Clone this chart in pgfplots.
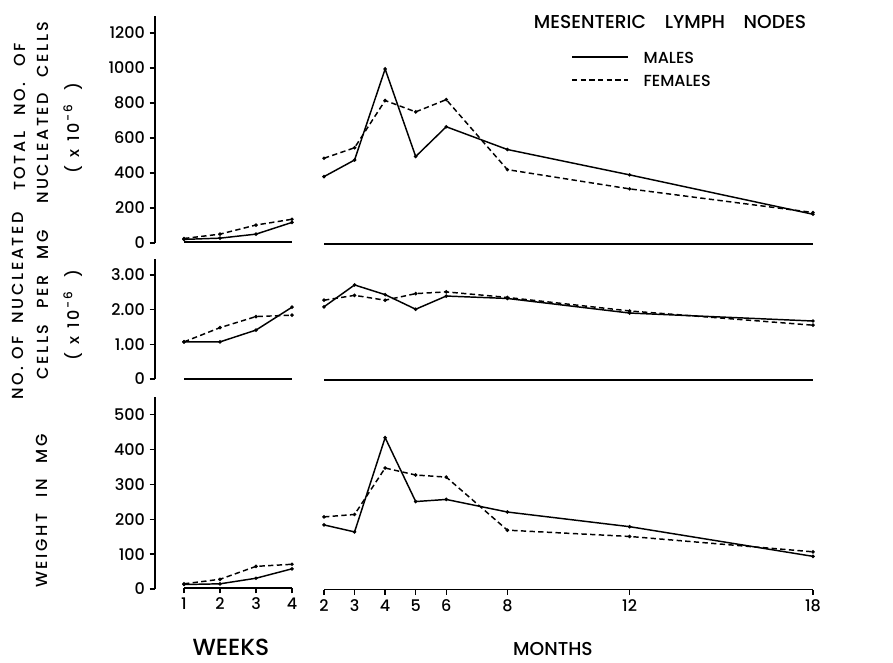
\documentclass[border=0pt]{standalone}
\usepackage{fontspec}
\setmainfont{Poppins}[UprightFont={* Medium}]
\usepackage{pgfplots}
\pgfplotsset{compat=1.18}

\pgfplotsset{
  panel/.style={scale only axis, clip=false, ymin=0,
    axis line style={-, line width=1.3pt},
    tick style={black, line width=1pt},
    tick align=outside, major tick length=4pt,
    ticklabel style={font=\fontsize{12}{13}\selectfont},
    /pgf/number format/assume math mode=true,
    /pgf/number format/1000 sep={}},
  yonly/.style={panel, xmin=0, xmax=1, width=0.1pt,
    axis x line=none, axis y line*=left, xtick=\empty},
  datax/.style={panel, axis y line=none, axis x line*=bottom, ytick=\empty},
  males/.style={black, line width=1.1pt, mark=*, mark size=0.7pt},
  females/.style={black, line width=1.1pt, dash pattern=on 4pt off 2.5pt,
    mark=*, mark size=0.7pt, mark options={solid}},
}
\newfontfamily\labfont{Poppins}[UprightFont={* Medium}, LetterSpace=16]
\newcommand{\lab}{\labfont\fontsize{12}{13}\selectfont}
\newcommand{\sci}{(\enspace x\enspace 10\raisebox{0.8ex}{\small\,-6}\enspace\ )}

\begin{document}
\begin{tikzpicture}
\useasboundingbox (0,0) rectangle (669.75pt,-496.5pt);

% ---------- panel 1: total nucleated cells ----------
\begin{axis}[yonly, at={({155*0.75pt},{-243*0.75pt})}, anchor=south west,
  height={227.5*0.75pt}, ymax=1300, ytick={0,200,...,1200}]
\end{axis}
\begin{axis}[datax, at={({184*0.75pt},{-242*0.75pt})}, anchor=south west,
  width={108*0.75pt}, height={227.5*0.75pt}, xmin=1, xmax=4, ymax=1300, xtick=\empty]
\addplot[males] coordinates {(1,15)(2,22)(3,45)(4,112)};
\addplot[females] coordinates {(1,20)(2,45)(3,97)(4,130)};
\end{axis}
\begin{axis}[datax, at={({324*0.75pt},{-244*0.75pt})}, anchor=south west,
  width={489*0.75pt}, height={227.5*0.75pt}, xmin=2, xmax=18, ymax=1300, xtick=\empty]
\addplot[males] coordinates {(2,385)(3,480)(4,1000)(5,500)(6,670)(8,540)(12,395)(18,170)};
\addplot[females] coordinates {(2,490)(3,550)(4,820)(5,755)(6,825)(8,425)(12,315)(18,180)};
\end{axis}

% ---------- panel 2: cells per mg ----------
\begin{axis}[yonly, at={({155*0.75pt},{-379*0.75pt})}, anchor=south west,
  height={119.7*0.75pt}, ymax=3.45, ytick={0,1,2,3},
  yticklabels={0,1.00,2.00,3.00}]
\end{axis}
\begin{axis}[datax, at={({184*0.75pt},{-379*0.75pt})}, anchor=south west,
  width={108*0.75pt}, height={119.7*0.75pt}, xmin=1, xmax=4, ymax=3.45, xtick=\empty]
\addplot[males] coordinates {(1,1.07)(2,1.07)(3,1.41)(4,2.07)};
\addplot[females] coordinates {(1,1.07)(2,1.48)(3,1.80)(4,1.84)};
\end{axis}
\begin{axis}[datax, at={({324*0.75pt},{-380*0.75pt})}, anchor=south west,
  width={489*0.75pt}, height={119.7*0.75pt}, xmin=2, xmax=18, ymax=3.45, xtick=\empty]
\addplot[males] coordinates {(2,2.11)(3,2.74)(4,2.46)(5,2.04)(6,2.42)(8,2.35)(12,1.93)(18,1.70)};
\addplot[females] coordinates {(2,2.30)(3,2.44)(4,2.30)(5,2.49)(6,2.54)(8,2.38)(12,1.99)(18,1.58)};
\end{axis}

% ---------- panel 3: weight ----------
\begin{axis}[yonly, at={({155*0.75pt},{-589*0.75pt})}, anchor=south west,
  height={192*0.75pt}, ymax=550, ytick={0,100,...,500}]
\end{axis}
\begin{axis}[datax, at={({184*0.75pt},{-588*0.75pt})}, anchor=south west,
  width={108*0.75pt}, height={192*0.75pt}, xmin=1, xmax=4, ymax=550,
  xtick={1,2,3,4}]
\addplot[males] coordinates {(1,10)(2,12)(3,28)(4,55)};
\addplot[females] coordinates {(1,12)(2,25)(3,62)(4,68)};
\end{axis}
\begin{axis}[datax, at={({324*0.75pt},{-589.5*0.75pt})}, anchor=south west,
  width={489*0.75pt}, height={192*0.75pt}, xmin=2, xmax=18, ymax=550,
  xtick={2,3,4,5,6,8,12,18}]
\addplot[males] coordinates {(2,185)(3,165)(4,435)(5,252)(6,258)(8,222)(12,180)(18,95)};
\addplot[females] coordinates {(2,208)(3,215)(4,348)(5,328)(6,322)(8,170)(12,152)(18,108)};
\end{axis}

% ---------- labels ----------
\node[rotate=90, font=\lab] at ({20*0.75pt},{-117*0.75pt}) {TOTAL\quad NO.\quad OF};
\node[rotate=90, font=\lab] at ({43*0.75pt},{-113*0.75pt}) {NUCLEATED\quad CELLS};
\node[rotate=90, font=\lab] at ({73*0.75pt},{-128*0.75pt}) {\sci};
\node[rotate=90, font=\lab] at ({18*0.75pt},{-306*0.75pt}) {NO. OF\ \ NUCLEATED};
\node[rotate=90, font=\lab] at ({43*0.75pt},{-305*0.75pt}) {CELLS\quad PER\quad MG};
\node[rotate=90, font=\lab] at ({73*0.75pt},{-315*0.75pt}) {\sci};
\node[rotate=90, font=\lab] at ({42*0.75pt},{-511*0.75pt}) {WEIGHT\quad IN\quad MG};

\node[inner sep=0pt, font=\fontsize{17.5}{19}\selectfont] at ({231*0.75pt},{-647*0.75pt}) {WEEKS};
\node[inner sep=0pt, font=\fontsize{14}{16}\selectfont] at ({553*0.75pt},{-649*0.75pt}) {MONTHS};

\node[font=\fontsize{14}{16}\selectfont] at ({670*0.75pt},{-22*0.75pt}) {MESENTERIC\quad LYMPH\quad NODES};
\draw[line width=1.1pt] ({572*0.75pt},{-57*0.75pt}) -- ({628*0.75pt},{-57*0.75pt});
\draw[line width=1.1pt, dash pattern=on 4pt off 2.5pt] ({572*0.75pt},{-80*0.75pt}) -- ({628*0.75pt},{-80*0.75pt});
\node[font=\fontsize{12}{13}\selectfont, anchor=west] at ({639*0.75pt},{-58*0.75pt}) {MALES};
\node[font=\fontsize{12}{13}\selectfont, anchor=west] at ({639*0.75pt},{-81*0.75pt}) {FEMALES};
\end{tikzpicture}
\end{document}
